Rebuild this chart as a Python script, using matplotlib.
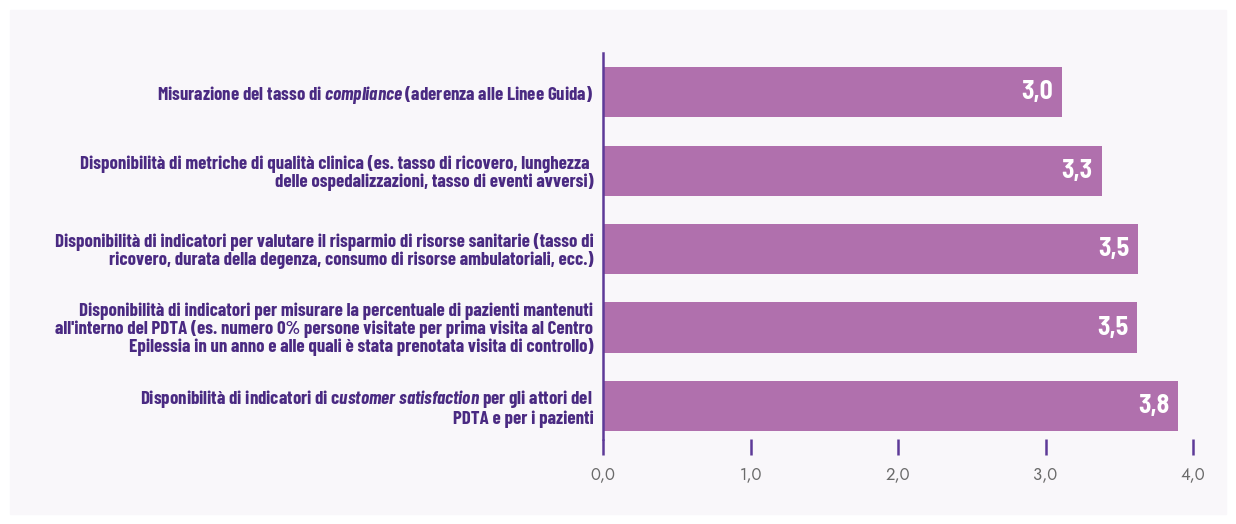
import matplotlib.pyplot as plt
from matplotlib.patches import Rectangle

label_font = 'Barlow Condensed'
plt.rcParams['mathtext.fontset'] = 'custom'
plt.rcParams['mathtext.rm'] = label_font + ':bold'
plt.rcParams['mathtext.it'] = label_font + ':italic:bold'

categories = [
    'Misurazione del tasso di $\\mathit{compliance}$ (aderenza alle Linee Guida)',
    'Disponibilità di metriche di qualità clinica (es. tasso di ricovero, lunghezza \n'
    'delle ospedalizzazioni, tasso di eventi avversi)',
    'Disponibilità di indicatori per valutare il risparmio di risorse sanitarie (tasso di\n'
    'ricovero, durata della degenza, consumo di risorse ambulatoriali, ecc.)',
    'Disponibilità di indicatori per misurare la percentuale di pazienti mantenuti\n'
    "all'interno del PDTA (es. numero 0% persone visitate per prima visita al Centro\n"
    'Epilessia in un anno e alle quali è stata prenotata visita di controllo)',
    'Disponibilità di indicatori di c$\\mathit{ustomer\\ satisfaction}$ per gli attori del \n'
    'PDTA e per i pazienti',
]
values = [3.11, 3.38, 3.63, 3.62, 3.90]
value_labels = ['3,0', '3,3', '3,5', '3,5', '3,8']
x_ticks = [0, 1, 2, 3, 4]
x_tick_labels = ['0,0', '1,0', '2,0', '3,0', '4,0']

bar_color = '#b070ad'
text_color = '#4a2a82'
axis_color = '#5e3a98'

fig = plt.figure(figsize=(12.36, 5.24), dpi=100)
fig.patches.append(Rectangle((10 / 1236, 10 / 524), 1216 / 1236, 504 / 524,
                             transform=fig.transFigure, color='#f9f7fa', zorder=-10))

ax = fig.add_axes([603 / 1236, 85 / 524, 590 / 1236, 386 / 524])
ax.set_facecolor('none')

pos = list(range(len(categories)))
ax.barh(pos, values, height=0.64, color=bar_color)

for p, v, lab in zip(pos, values, value_labels):
    ax.text(v - 0.06, p, lab, ha='right', va='center', color='white',
            fontsize=18.5, fontweight='bold',
            family=['Barlow Semi Condensed', 'Barlow Condensed'])

ax.set_ylim(4.42, -0.5)
ax.set_xlim(0, 4)

ax.set_yticks(pos)
ax.set_yticklabels(categories, fontsize=13.6, fontweight='bold',
                   family=label_font, color=text_color,
                   multialignment='right', linespacing=1.0)
ax.tick_params(axis='y', length=0, pad=7)

ax.set_xticks(x_ticks)
ax.set_xticklabels(x_tick_labels, fontsize=12, family='Jost', fontweight='light',
                   color='#6a6a6a')
ax.tick_params(axis='x', length=11.5, width=1.8, color=axis_color, pad=8)

for s in ['top', 'right', 'bottom']:
    ax.spines[s].set_visible(False)
ax.spines['left'].set_color(axis_color)
ax.spines['left'].set_linewidth(1.8)

fig.savefig('out.png', dpi=100)
